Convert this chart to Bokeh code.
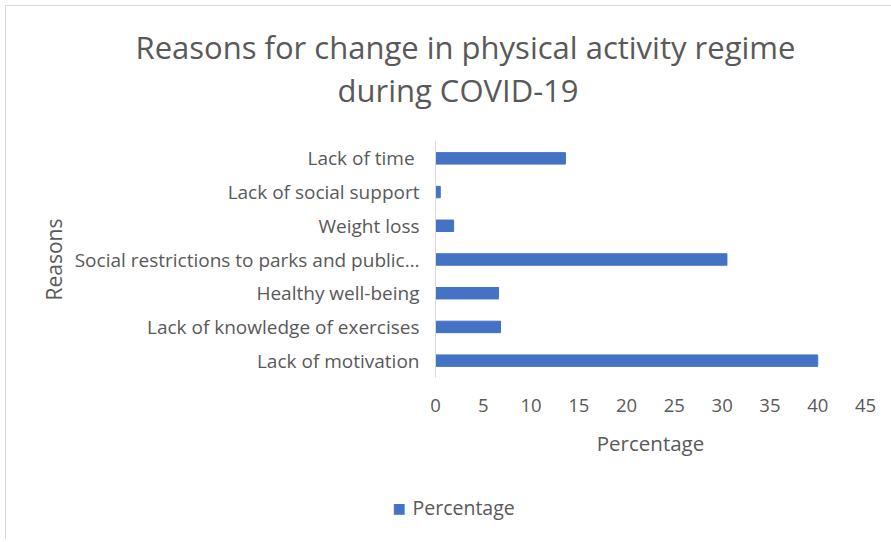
from bokeh.plotting import figure
from bokeh.models import Title, ColumnDataSource
from bokeh.embed import file_html
from bokeh.resources import INLINE

categories = ["Lack of motivation", "Lack of knowledge of exercises", "Healthy well-being",
              "Social restrictions to parks and public…", "Weight loss",
              "Lack of social support", "Lack of time "]
percentages = [40.0, 6.8, 6.6, 30.5, 1.9, 0.5, 13.6]
x_ticks = [0, 5, 10, 15, 20, 25, 30, 35, 40, 45]
title_lines = ["Reasons for change in physical activity regime", "during COVID-19"]
series_name = "Percentage"

FONT = "Open Sans"
GREY = "#595959"
BAR = "#4472C4"

p = figure(y_range=categories, x_range=(0, 45), output_backend="svg", toolbar_location=None,
           frame_width=430, frame_height=236, min_border_left=429, min_border_right=26,
           min_border_top=135, min_border_bottom=0, title=None)
p.width = 885
p.height = 536
p.styles = {"margin-top": "5px", "margin-left": "5px",
            "border-top": "1px solid #D9D9D9", "border-left": "1px solid #D9D9D9"}

src = ColumnDataSource(dict(cat=categories, pct=percentages))
p.hbar(y="cat", right="pct", left=0, height=0.34, source=src, color=BAR)

p.xgrid.visible = False
p.ygrid.visible = False
p.outline_line_color = None

p.xaxis.ticker = x_ticks
p.xaxis.axis_line_color = None
p.xaxis.major_tick_line_color = None
p.xaxis.minor_tick_line_color = None
p.xaxis.major_label_standoff = 15
p.xaxis.major_label_text_font = FONT
p.xaxis.major_label_text_font_size = "18.5px"
p.xaxis.major_label_text_color = GREY
p.xaxis.axis_label = "Percentage"
p.xaxis.axis_label_text_font = FONT
p.xaxis.axis_label_text_font_style = "normal"
p.xaxis.axis_label_text_font_size = "20.5px"
p.xaxis.axis_label_text_color = GREY
p.xaxis.axis_label_standoff = 14

p.yaxis.axis_line_color = "#D9D9D9"
p.yaxis.major_tick_line_color = None
p.yaxis.minor_tick_line_color = None
p.yaxis.major_label_standoff = 10
p.yaxis.major_label_text_font = FONT
p.yaxis.major_label_text_font_size = "19px"
p.yaxis.major_label_text_color = GREY
p.yaxis.axis_label = "Reasons"
p.yaxis.axis_label_text_font = FONT
p.yaxis.axis_label_text_font_style = "normal"
p.yaxis.axis_label_text_font_size = "21px"
p.yaxis.axis_label_text_color = GREY
p.yaxis.axis_label_standoff = 4

# title: panels stack outward from the frame: spacer, second line, first line
p.add_layout(Title(text=" ", text_font_size="10px", standoff=17), "above")
p.add_layout(Title(text=title_lines[1], align="left", offset=-98, standoff=-1,
                   vertical_align="middle", text_font=FONT, text_font_size="31px",
                   text_font_style="normal", text_color=GREY), "above")
p.add_layout(Title(text=title_lines[0], align="left", offset=-300, standoff=-1,
                   vertical_align="middle", text_font=FONT, text_font_size="31px",
                   text_font_style="normal", text_color=GREY), "above")

# legend row below the x axis: spacer, blue key square and series name on one row, spacer
p.add_layout(Title(text=" ", text_font_size="10px", standoff=34), "below")
p.add_layout(Title(text="■", align="left", offset=-43, standoff=-31.8,
                   vertical_align="middle", text_font=FONT, text_font_size="22px",
                   text_font_style="normal", text_color=BAR), "below")
p.add_layout(Title(text=series_name, align="left", offset=-23, standoff=-28.4,
                   vertical_align="middle", text_font=FONT, text_font_size="19.5px",
                   text_font_style="normal", text_color=GREY), "below")
p.add_layout(Title(text=" ", text_font_size="10px", standoff=19), "below")

open("out.html", "w").write(file_html(p, INLINE))
